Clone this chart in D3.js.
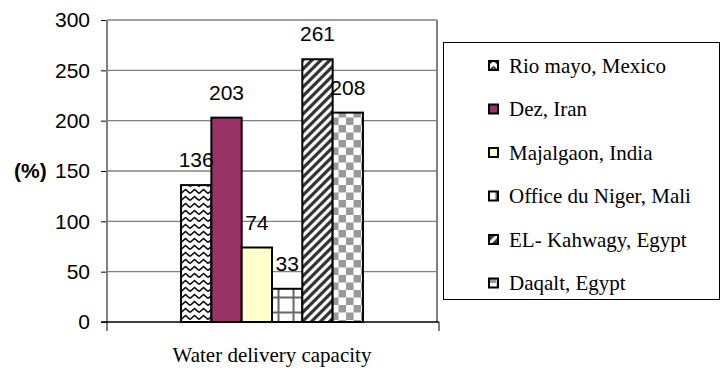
<!DOCTYPE html>
<html>
<head>
<meta charset="utf-8">
<script src="https://cdn.jsdelivr.net/npm/d3@7"></script>
<style>
  html, body { margin: 0; padding: 0; background: #fff; }
  svg { display: block; }
</style>
</head>
<body>
<svg id="chart" width="726" height="372"></svg>
<script>
// Water delivery capacity (%) per irrigation scheme
const category = "Water delivery capacity";
const series = [
  "Rio mayo, Mexico",
  "Dez, Iran",
  "Majalgaon, India",
  "Office du Niger, Mali",
  "EL- Kahwagy, Egypt",
  "Daqalt, Egypt"
];
const values = [136, 203, 74, 33, 261, 208];
const yTicks = [0, 50, 100, 150, 200, 250, 300];
const fills = ["url(#zigzag)", "#993366", "#FFFFCC", "url(#grid)", "url(#wdiag)", "url(#checker)"];

const svg = d3.select("#chart");
const margin = { left: 107, top: 20, right: 289, bottom: 50 };
const W = 726 - margin.left - margin.right;
const H = 372 - margin.top - margin.bottom;
const sans = "Liberation Sans, Arial, sans-serif";
const serif = "Liberation Serif, Times New Roman, serif";

// --- fill patterns ---
const defs = svg.append("defs");

const zz = defs.append("pattern").attr("id", "zigzag")
  .attr("patternUnits", "userSpaceOnUse").attr("width", 9).attr("height", 7);
zz.append("rect").attr("width", 9).attr("height", 7).attr("fill", "#fff");
zz.append("path").attr("d", "M0,5.5 L4.5,1.5 L9,5.5")
  .attr("fill", "none").attr("stroke", "#000").attr("stroke-width", 1.6);

const gr = defs.append("pattern").attr("id", "grid")
  .attr("patternUnits", "userSpaceOnUse").attr("width", 15).attr("height", 15);
gr.append("rect").attr("width", 15).attr("height", 15).attr("fill", "#fff");
gr.append("path").attr("d", "M7.5,0 V15 M0,7.5 H15")
  .attr("stroke", "#666").attr("stroke-width", 2);

const wd = defs.append("pattern").attr("id", "wdiag")
  .attr("patternUnits", "userSpaceOnUse").attr("width", 9).attr("height", 9);
wd.append("rect").attr("width", 9).attr("height", 9).attr("fill", "#fff");
wd.append("path").attr("d", "M-2,11 L11,-2 M-2,2 L2,-2 M7,11 L11,7")
  .attr("stroke", "#333").attr("stroke-width", 3.2);

const ck = defs.append("pattern").attr("id", "checker")
  .attr("patternUnits", "userSpaceOnUse").attr("width", 15).attr("height", 15);
ck.append("rect").attr("width", 15).attr("height", 15).attr("fill", "#fff");
ck.append("rect").attr("x", 7.5).attr("width", 7.5).attr("height", 7.5).attr("fill", "#999");
ck.append("rect").attr("y", 7.5).attr("width", 7.5).attr("height", 7.5).attr("fill", "#999");

// --- scales ---
const y = d3.scaleLinear().domain([0, 300]).range([H, 0]);
const x0 = d3.scaleBand().domain([category]).range([0, W]).paddingInner(0).paddingOuter(0.407);
const x1 = d3.scaleBand().domain(series).range([0, x0.bandwidth()]).padding(0);

const g = svg.append("g").attr("transform", `translate(${margin.left},${margin.top})`);

// plot area and gridlines
g.append("g").selectAll("line").data(yTicks.filter(d => d > 0)).join("line")
  .attr("x1", 0).attr("x2", W)
  .attr("y1", d => y(d)).attr("y2", d => y(d))
  .attr("stroke", "#808080").attr("stroke-width", 1.3);
g.append("line").attr("x1", W).attr("x2", W).attr("y1", 0).attr("y2", H)
  .attr("stroke", "#808080").attr("stroke-width", 2);

// bars
const bars = g.append("g").attr("transform", `translate(${x0(category)},0)`);
bars.selectAll("rect").data(values).join("rect")
  .attr("x", (d, i) => x1(series[i]))
  .attr("y", d => y(d))
  .attr("width", x1.bandwidth())
  .attr("height", d => H - y(d))
  .attr("fill", (d, i) => fills[i])
  .attr("stroke", "#000").attr("stroke-width", 2);

// value labels
bars.selectAll("text").data(values).join("text")
  .attr("x", (d, i) => x1(series[i]) + x1.bandwidth() / 2)
  .attr("y", d => y(d) - 18)
  .attr("text-anchor", "middle")
  .attr("font-family", sans)
  .attr("font-size", 21)
  .attr("fill", "#000")
  .text(d => d);

// y axis
const yAxis = g.append("g")
  .call(d3.axisLeft(y).tickValues(yTicks).tickSize(6).tickPadding(11));
yAxis.select(".domain").remove();
yAxis.selectAll(".tick line").attr("stroke", "#000");
yAxis.selectAll(".tick text")
  .attr("font-family", sans)
  .attr("font-size", 21).attr("fill", "#000");
g.append("line").attr("x1", 0).attr("x2", 0).attr("y1", 0).attr("y2", H)
  .attr("stroke", "#808080").attr("stroke-width", 2);
g.append("line").attr("x1", 0).attr("x2", 0).attr("y1", H).attr("y2", H + 9)
  .attr("stroke", "#000").attr("stroke-width", 1);

// x axis
g.append("line").attr("x1", -6).attr("x2", W + 2).attr("y1", H).attr("y2", H)
  .attr("stroke", "#000").attr("stroke-width", 1.5);
g.append("line").attr("x1", W + 2).attr("x2", W + 2).attr("y1", H).attr("y2", H + 9)
  .attr("stroke", "#000").attr("stroke-width", 1);

g.append("text")
  .attr("x", x0(category) + x0.bandwidth() / 2)
  .attr("y", H + 40)
  .attr("text-anchor", "middle")
  .attr("font-family", serif)
  .attr("font-size", 21)
  .text(category);

// y axis title
svg.append("text")
  .attr("x", 14).attr("y", margin.top + y(150) + 7)
  .attr("font-family", sans)
  .attr("font-weight", "bold")
  .attr("font-size", 21)
  .text("(%)");

// legend
const lg = svg.append("g");
lg.append("rect").attr("x", 443.5).attr("y", 42.5).attr("width", 276).attr("height", 257)
  .attr("fill", "#fff").attr("stroke", "#000").attr("stroke-width", 1);
const items = lg.selectAll("g.item").data(series).join("g")
  .attr("class", "item")
  .attr("transform", (d, i) => `translate(489,${65.5 + i * 43.5})`);
items.append("rect")
  .attr("x", 0).attr("y", -4.5).attr("width", 9).attr("height", 9)
  .attr("fill", (d, i) => fills[i])
  .attr("stroke", "#000").attr("stroke-width", 2);
items.append("text")
  .attr("x", 20).attr("y", 7)
  .attr("font-family", serif)
  .attr("font-size", 21)
  .text(d => d);
</script>
</body>
</html>
